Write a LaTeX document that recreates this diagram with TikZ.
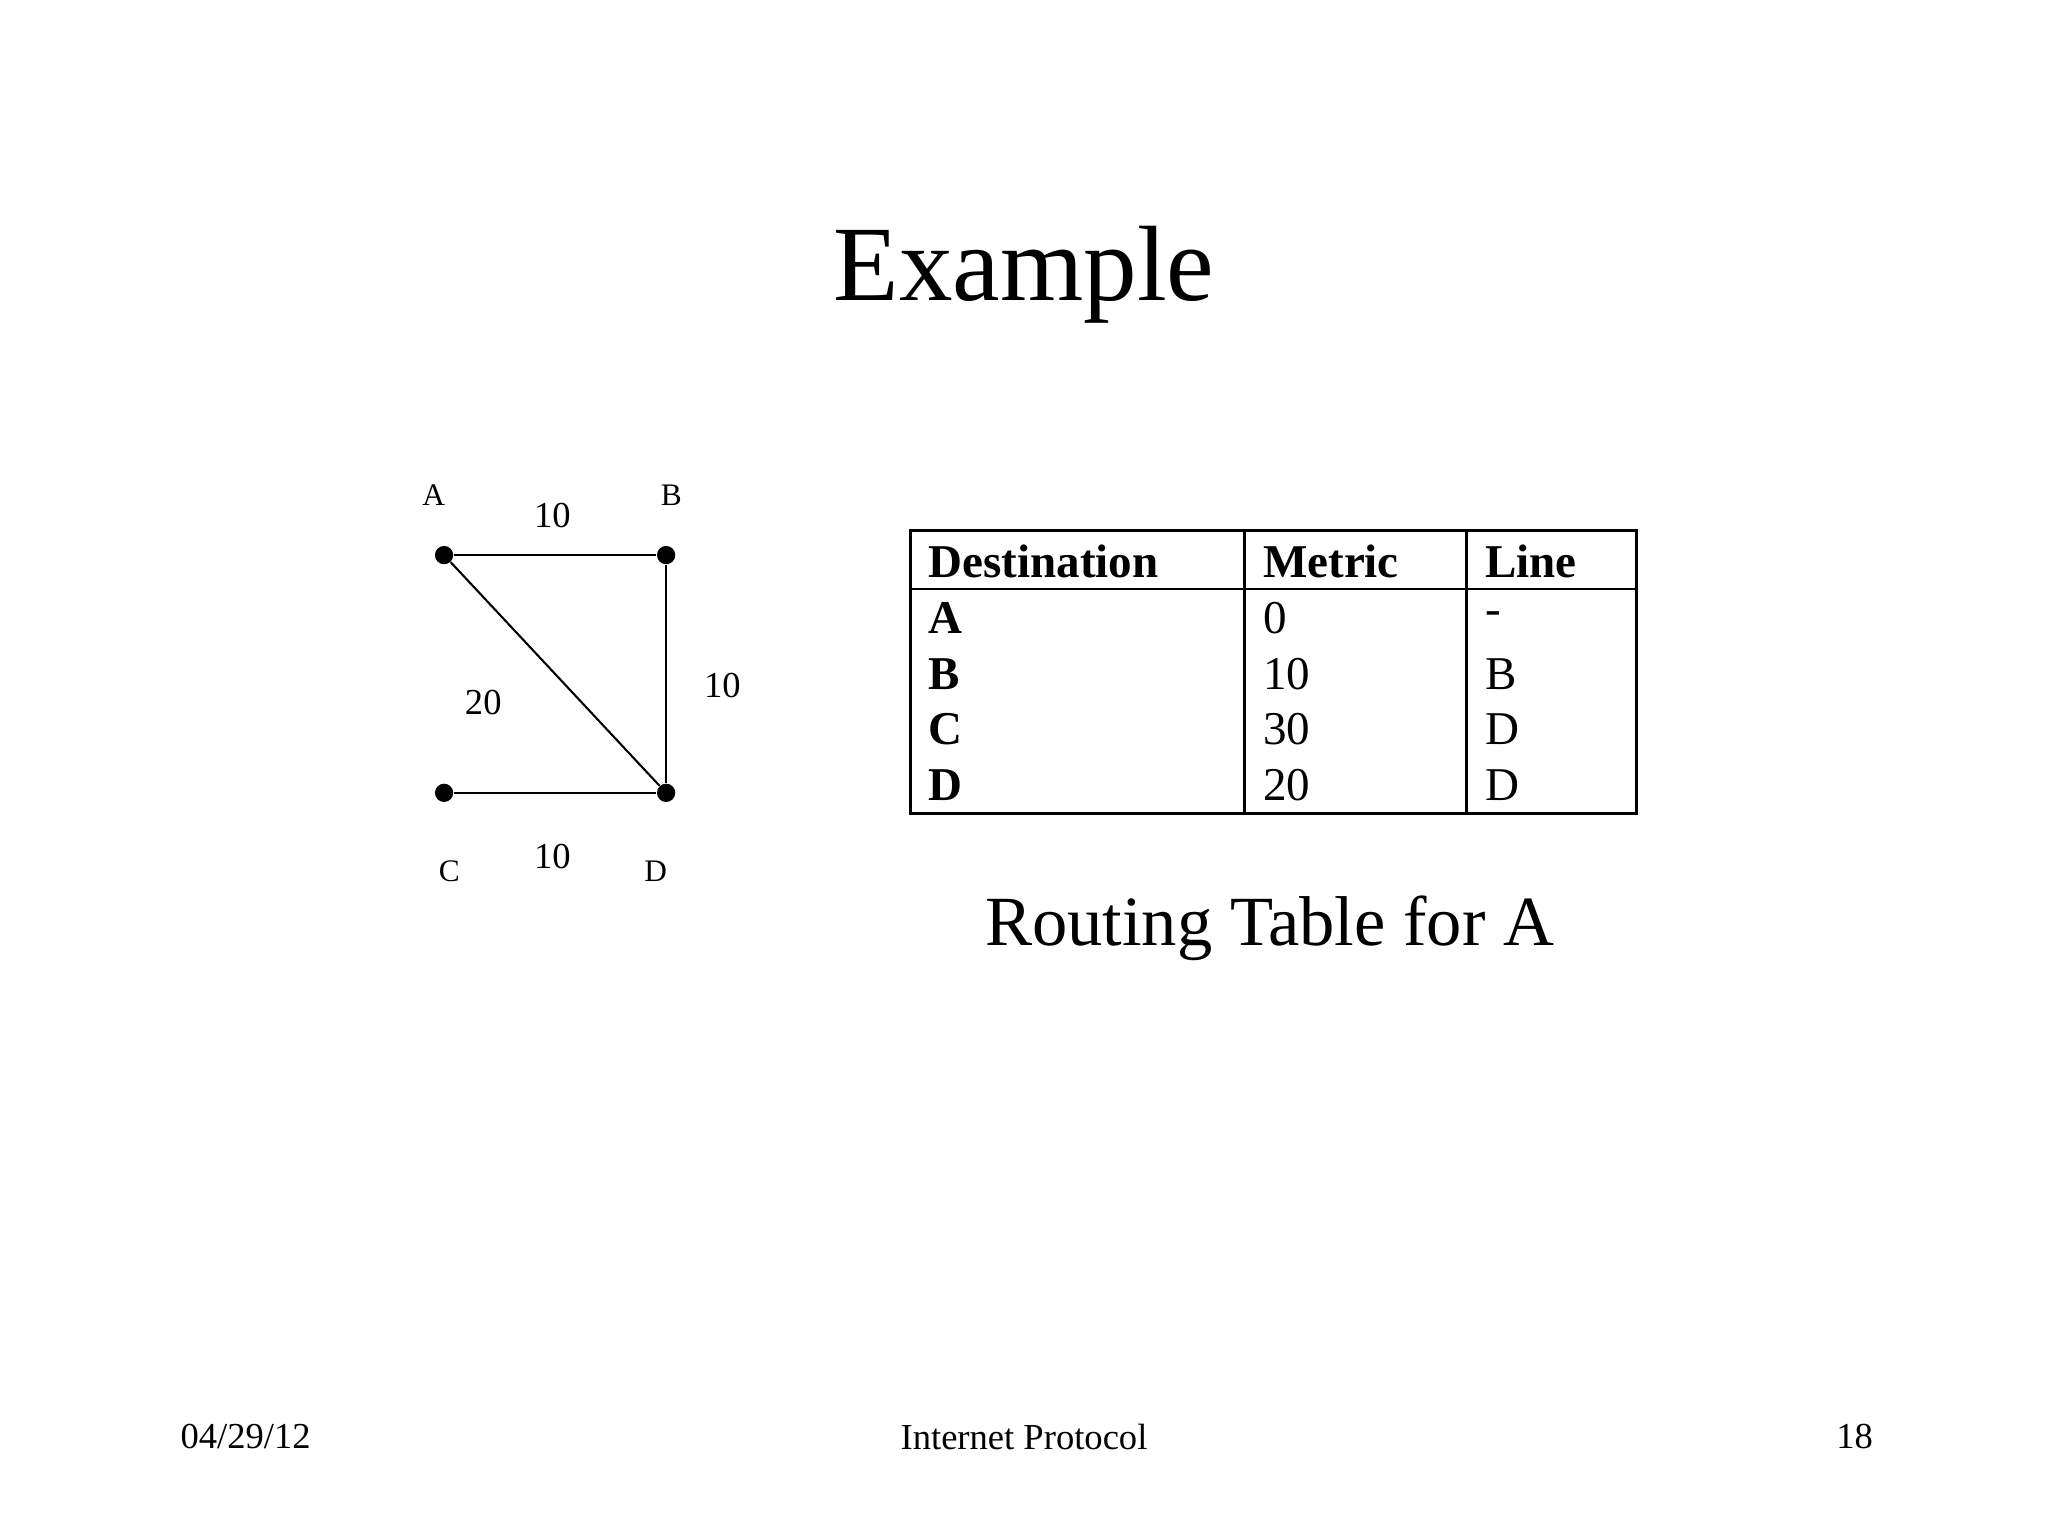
\documentclass[tikz,border=0pt]{standalone}
\usepackage{fontspec}
\setmainfont{Liberation Serif}
\begin{document}
\begin{tikzpicture}[x=0.5pt,y=-0.5pt,
  dot/.style={circle,fill=black,inner sep=0pt,minimum size=7pt},
  lbl/.style={font=\fontsize{12}{14}\selectfont},
  wt/.style={font=\fontsize{14}{16}\selectfont},
  cell/.style={anchor=west,font=\fontsize{18}{20}\selectfont},
  hcell/.style={anchor=west,font=\fontsize{18}{20}\selectfont\bfseries},
  foot/.style={font=\fontsize{14}{16}\selectfont}]
\useasboundingbox (0,0) rectangle (1568,1176);
\node (title) at (784,210) {\fontsize{41}{46}\selectfont Example};
% graph
\node[dot] (A) at (340,425) {};
\node[dot] (B) at (510,425) {};
\node[dot] (C) at (340,607) {};
\node[dot] (D) at (510,607) {};
\draw[line width=0.8pt] (A) -- (B) -- (D) -- (C);
\draw[line width=0.8pt] (A) -- (D);
\node[lbl] (la) at (332,379) {A};
\node[lbl] (lb) at (514,379) {B};
\node[lbl] (lc) at (344,667) {C};
\node[lbl] (ld) at (502,667) {D};
\node[wt] (wab) at (423,395) {10};
\node[wt] (wbd) at (553,525) {10};
\node[wt] (wad) at (370,538) {20};
\node[wt] (wcd) at (423,656) {10};
% table
\draw[line width=1.2pt] (697,406) rectangle (1253,623);
\draw[line width=1pt] (697,451) -- (1253,451);
\draw[line width=1pt] (953,406) -- (953,623);
\draw[line width=1pt] (1123,406) -- (1123,623);
\node[hcell] (h1) at (704,430) {Destination};
\node[hcell] (h2) at (960,430) {Metric};
\node[hcell] (h3) at (1130,430) {Line};
\foreach \d/\m/\l/\y in {A/0/-/473,B/10/B/516,C/30/D/558,D/20/D/601}{
  \node[hcell] at (704,\y) {\d};
  \node[cell] at (960,\y) {\m};
  \node[cell] at (1130,\y) {\l};
}
\node (cap) at (972,711) {\fontsize{27}{30}\selectfont Routing Table for A};
\node[foot] (f1) at (188,1100) {04/29/12};
\node[foot] (f2) at (784,1100) {Internet Protocol};
\node[foot] (f3) at (1420,1100) {18};
\end{tikzpicture}
\end{document}
